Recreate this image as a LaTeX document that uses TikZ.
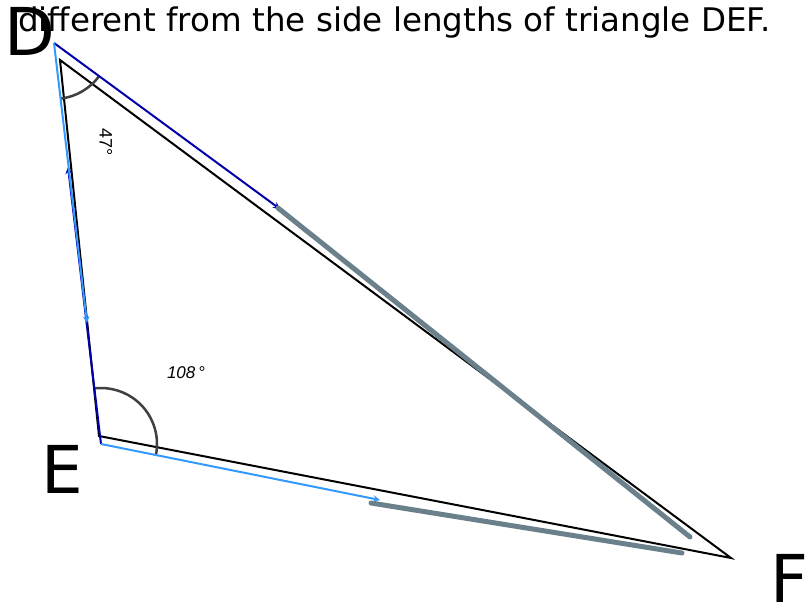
\documentclass[tikz,border=0pt]{standalone}
\usepackage{fontspec}
\setmainfont{Liberation Sans}
\newfontfamily\handfont{DejaVu Sans}
\usetikzlibrary{arrows, positioning}
\definecolor{darkblue}{RGB}{0,0,170}
\definecolor{lightblue}{RGB}{51,153,255}
\definecolor{slategray}{RGB}{106,128,138}
\tikzstyle{side} = [line width=2pt, black]
\tikzstyle{vec} = [line width=2pt, ->, >=stealth]
\tikzstyle{match} = [line width=5pt, slategray, line cap=round]
\tikzstyle{anglearc} = [line width=2.5pt, black!75]
\tikzstyle{vertex} = [font=\handfont\fontsize{66}{66}\selectfont, inner sep=0pt, anchor=base west]
\tikzstyle{anglelabel} = [font=\fontsize{18}{18}\selectfont, inner sep=0pt]

\begin{document}
\begin{tikzpicture}[x=1pt, y=-1pt]
\useasboundingbox (0,0) rectangle (805,605);

% Caption
\node (caption) [anchor=base west, inner sep=0pt, font=\handfont\fontsize{32.5}{32.5}\selectfont] at (18,31) {different from the side lengths of triangle DEF.};

% Triangle DEF
\coordinate (D) at (60,60);
\coordinate (E) at (99,436);
\coordinate (F) at (731,558);
\draw [side] (D) -- (E) -- (F) -- cycle;

% Vertex labels
\node (labD) [vertex] at (4,55) {D};
\node (labE) [vertex] at (41,493) {E};
\node (labF) [vertex] at (770,602) {F};

% Vectors
\coordinate (Dv) at (54,43);
\coordinate (Ev) at (101,444);
\coordinate (dfTip) at (280,209);
\coordinate (edTip) at (68,167);
\coordinate (deTip) at (87,323);
\coordinate (efTip) at (380,500);

% Angles
\draw [anglearc] (Dv) ++(36.3:56) arc[start angle=36.3, end angle=83.3, radius=56];
\draw [anglearc] (Ev) ++(11.2:56) arc[start angle=11.2, end angle=-96.7, radius=56];
\node (angD) [anglelabel, rotate=-90] at (106,142) {47°};
\node (angE) [anglelabel, font=\fontsize{17}{17}\selectfont\itshape] at (186,373) {108\,°};

\draw [vec, darkblue] (Dv) -- (dfTip);
\draw [vec, darkblue] (Ev) -- (edTip);
\draw [vec, lightblue] (Dv) -- (deTip);
\draw [vec, lightblue] (Ev) -- (efTip);

% Matching sides
\coordinate (dfA) at (278,208);
\coordinate (dfB) at (690,537);
\coordinate (efA) at (371,503);
\coordinate (efB) at (682,553);
\draw [match] (dfA) -- (dfB);
\draw [match] (efA) -- (efB);

\end{tikzpicture}
\end{document}
